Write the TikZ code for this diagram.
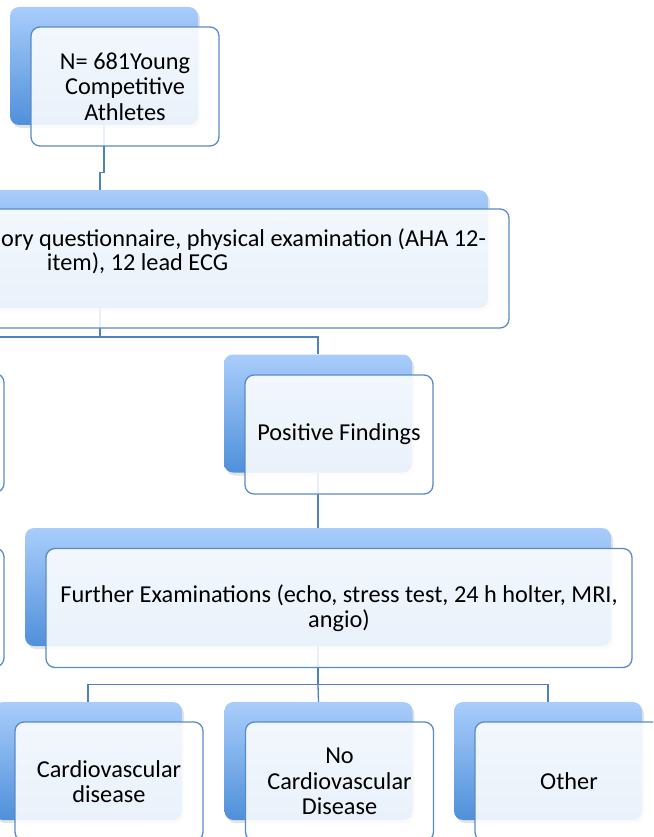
\documentclass[tikz,border=0pt]{standalone}
\usepackage{fontspec}
\setmainfont{Carlito}
\usetikzlibrary{shadows}
\definecolor{boxline}{HTML}{5B8BC6}
\definecolor{connc}{HTML}{5081BF}
\definecolor{backtop}{HTML}{A9CDFB}
\definecolor{backbot}{HTML}{4F90DA}
\begin{document}
\begin{tikzpicture}[x=1pt,y=-1pt,
  backbox/.style={rectangle, rounded corners=9pt, inner sep=0pt, minimum height=118pt,
    top color=backtop, bottom color=backbot,
    drop shadow={opacity=0.22, shadow xshift=2pt, shadow yshift=-3pt}},
  frontbox/.style={rectangle, rounded corners=9pt, inner sep=0pt, minimum height=119pt,
    draw=boxline, line width=1.3pt, fill=white, fill opacity=0.88, text opacity=1,
    align=center, font=\fontsize{24.3}{25.5}\selectfont},
  txt/.style={inner sep=0pt, font=\fontsize{24.3}{25.5}\selectfont},
  connector/.style={draw=connc, line width=1.3pt}]
\useasboundingbox (0,0) rectangle (653,837);
\clip (0,0) rectangle (653,837);
% back rectangles
\node[backbox, minimum width=188pt] (aB) at (104,66) {};
\node[backbox, minimum width=776pt] (bB) at (100,249) {};
\node[backbox, minimum width=188pt] (dB) at (318,413.5) {};
\node[backbox, minimum width=586pt] (fB) at (318,587) {};
\node[backbox, minimum width=188pt] (g1B) at (88,761) {};
\node[backbox, minimum width=188pt] (g2B) at (318.5,761) {};
\node[backbox, minimum width=188pt] (g3B) at (548,761) {};
% connectors
\draw[connector] (aB.south) -- ++(0,47) -| (bB.north);
\coordinate (cL) at (-100,337);
\draw[connector] (bB.south) -- (bB.south |- cL);
\draw[connector] (dB.north) |- (cL);
\draw[connector] (dB.south) -- (fB.north);
\draw[connector] (fB.south) -- ++(0,38) coordinate (j3);
\draw[connector] (g1B.north) |- (j3) -| (g3B.north);
\draw[connector] (j3) -- (g2B.north);
% front boxes
\node[frontbox, minimum width=188pt] (aF) at ([shift={(21,20.5)}]aB.center) {N= 681Young\\Competitive\\Athletes};
\node[frontbox, minimum width=776pt] (bF) at ([shift={(21,19.5)}]bB.center) {};
\node[txt, anchor=west] (bt1) at (1,240) {ory questionnaire, physical examination (AHA 12-};
\node[txt] (bt2) at (137.5,263) {item), 12 lead ECG};
\node[frontbox, minimum width=188pt] (cF) at (-90,433) {};
\node[frontbox, minimum width=188pt] (dF) at ([shift={(21,21)}]dB.center) {Positive Findings};
\node[frontbox, minimum width=188pt] (eF) at (-90,607.5) {};
\node[frontbox, minimum width=586pt] (fF) at ([shift={(21,21)}]fB.center) {Further Examinations (echo, stress test, 24 h holter, MRI,\\angio)};
\node[frontbox, minimum width=188pt] (g1F) at ([shift={(21,20.5)}]g1B.center) {Cardiovascular\\disease};
\node[frontbox, minimum width=188pt] (g2F) at ([shift={(21,20.5)}]g2B.center) {No\\Cardiovascular\\Disease};
\node[frontbox, minimum width=188pt] (g3F) at ([shift={(21,20.5)}]g3B.center) {Other};
\end{tikzpicture}
\end{document}
